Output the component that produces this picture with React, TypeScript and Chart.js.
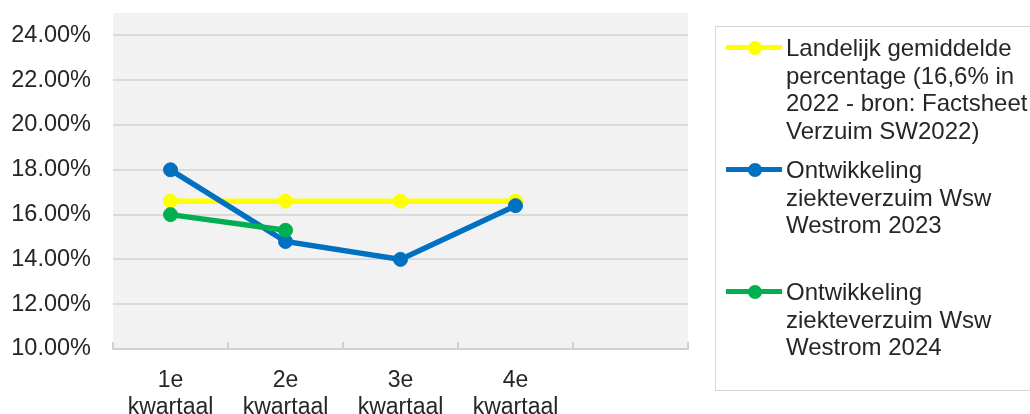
import React, { useEffect, useRef } from "react";
import { Chart, registerables } from "chart.js";

Chart.register(...registerables);

const categories: (string | string[])[] = [
  ["1e", "kwartaal"],
  ["2e", "kwartaal"],
  ["3e", "kwartaal"],
  ["4e", "kwartaal"],
  "",
];
const landelijk = [16.6, 16.6, 16.6, 16.6, null];
const westrom2023 = [18.0, 14.8, 14.0, 16.4, null];
const westrom2024 = [16.0, 15.3, null, null, null];
const yTicks = [10, 12, 14, 16, 18, 20, 22, 24];
const seriesLabels = [
  ["Landelijk gemiddelde", "percentage (16,6% in", "2022 - bron: Factsheet", "Verzuim SW2022)"],
  ["Ontwikkeling", "ziekteverzuim Wsw", "Westrom 2023"],
  ["Ontwikkeling", "ziekteverzuim Wsw", "Westrom 2024"],
];
const seriesColors = ["#FFFF00", "#0070C0", "#00B050"];

const FONT = "'Liberation Sans', Arial, sans-serif";
const TEXT = "#262626";

const plotBg = {
  id: "plotBg",
  beforeDraw(chart: any) {
    const { ctx, chartArea } = chart;
    ctx.save();
    ctx.fillStyle = "#f2f2f3";
    ctx.fillRect(chartArea.left, chartArea.top, chartArea.right - chartArea.left, chartArea.bottom - chartArea.top);
    ctx.restore();
  },
};

const innerTicks = {
  id: "innerTicks",
  beforeDatasetsDraw(chart: any) {
    const { ctx } = chart;
    const xs = chart.scales.x;
    const n = xs.ticks.length;
    const step = (xs.right - xs.left) / n;
    ctx.save();
    ctx.strokeStyle = "#d0d0d0";
    ctx.lineWidth = 2;
    for (let i = 0; i <= n; i++) {
      const x = Math.round(xs.left + i * step);
      ctx.beginPath();
      ctx.moveTo(x, xs.top - 7);
      ctx.lineTo(x, xs.top);
      ctx.stroke();
    }
    ctx.restore();
  },
};

export default function App() {
  const ref = useRef<HTMLCanvasElement>(null);
  useEffect(() => {
    const mk = (data: (number | null)[], i: number, order: number) => ({
      label: seriesLabels[i].join(" "),
      data,
      borderColor: seriesColors[i],
      backgroundColor: seriesColors[i],
      pointBackgroundColor: seriesColors[i],
      pointBorderColor: seriesColors[i],
      borderWidth: 5.5,
      pointRadius: 7,
      pointBorderWidth: 1,
      tension: 0,
      spanGaps: false,
      order,
    });
    const chart = new Chart(ref.current!, {
      type: "line",
      data: {
        labels: categories,
        datasets: [mk(landelijk, 0, 3), mk(westrom2023, 1, 2), mk(westrom2024, 2, 1)],
      },
      plugins: [plotBg, innerTicks],
      options: {
        animation: false,
        responsive: false,
        layout: { padding: { left: 0, top: 13, right: 342, bottom: 0 } },
        plugins: { legend: { display: false }, tooltip: { enabled: false } },
        scales: {
          x: {
            offset: true,
            grid: { display: false },
            border: { display: true, color: "#d0d0d0", width: 2 },
            ticks: {
              color: TEXT,
              padding: 10,
              maxRotation: 0,
              autoSkip: false,
              font: { family: FONT, size: 23, lineHeight: 1.17 },
            },
            afterFit(scale: any) {
              scale.height = 65;
              scale.paddingLeft = 0;
              scale.paddingRight = 0;
            },
          },
          y: {
            min: 10,
            max: 25,
            border: { display: false },
            grid: { color: "#dadada", lineWidth: 2, drawTicks: false },
            afterBuildTicks(scale: any) {
              scale.ticks = yTicks.map((v) => ({ value: v }));
            },
            ticks: {
              color: TEXT,
              padding: 22,
              font: { family: FONT, size: 23.5 },
              callback: (v: any) => Number(v).toFixed(2) + "%",
            },
            afterFit(scale: any) {
              scale.width = 113;
              scale.paddingTop = 0;
              scale.paddingBottom = 0;
            },
          },
        },
      },
    });
    return () => chart.destroy();
  }, []);

  return (
    <div style={{ position: "fixed", left: 0, top: 0, width: 1030, height: 414, background: "#fff", overflow: "hidden" }}>
      <canvas ref={ref} width={1030} height={414} style={{ position: "absolute", left: 0, top: 0 }} />
      <div
        style={{
          position: "absolute",
          left: 715,
          top: 26,
          width: 340,
          height: 365,
          border: "1.5px solid #d6d6d6",
          boxSizing: "border-box",
        }}
      >
        {seriesLabels.map((lines, i) => (
          <div key={i} style={{ position: "absolute", left: 0, top: 7 + i * 122, width: 330 }}>
            <div style={{ position: "absolute", left: 10, top: 11, width: 56, height: 5, background: seriesColors[i] }} />
            <div
              style={{
                position: "absolute",
                left: 32,
                top: 6.5,
                width: 14,
                height: 14,
                borderRadius: 7,
                background: seriesColors[i],
              }}
            />
            <div
              style={{
                position: "absolute",
                left: 70,
                top: 0,
                fontFamily: FONT,
                fontSize: 24,
                lineHeight: "27.5px",
                color: TEXT,
                whiteSpace: "nowrap",
              }}
            >
              {lines.map((l, j) => (
                <div key={j}>{l}</div>
              ))}
            </div>
          </div>
        ))}
      </div>
    </div>
  );
}
